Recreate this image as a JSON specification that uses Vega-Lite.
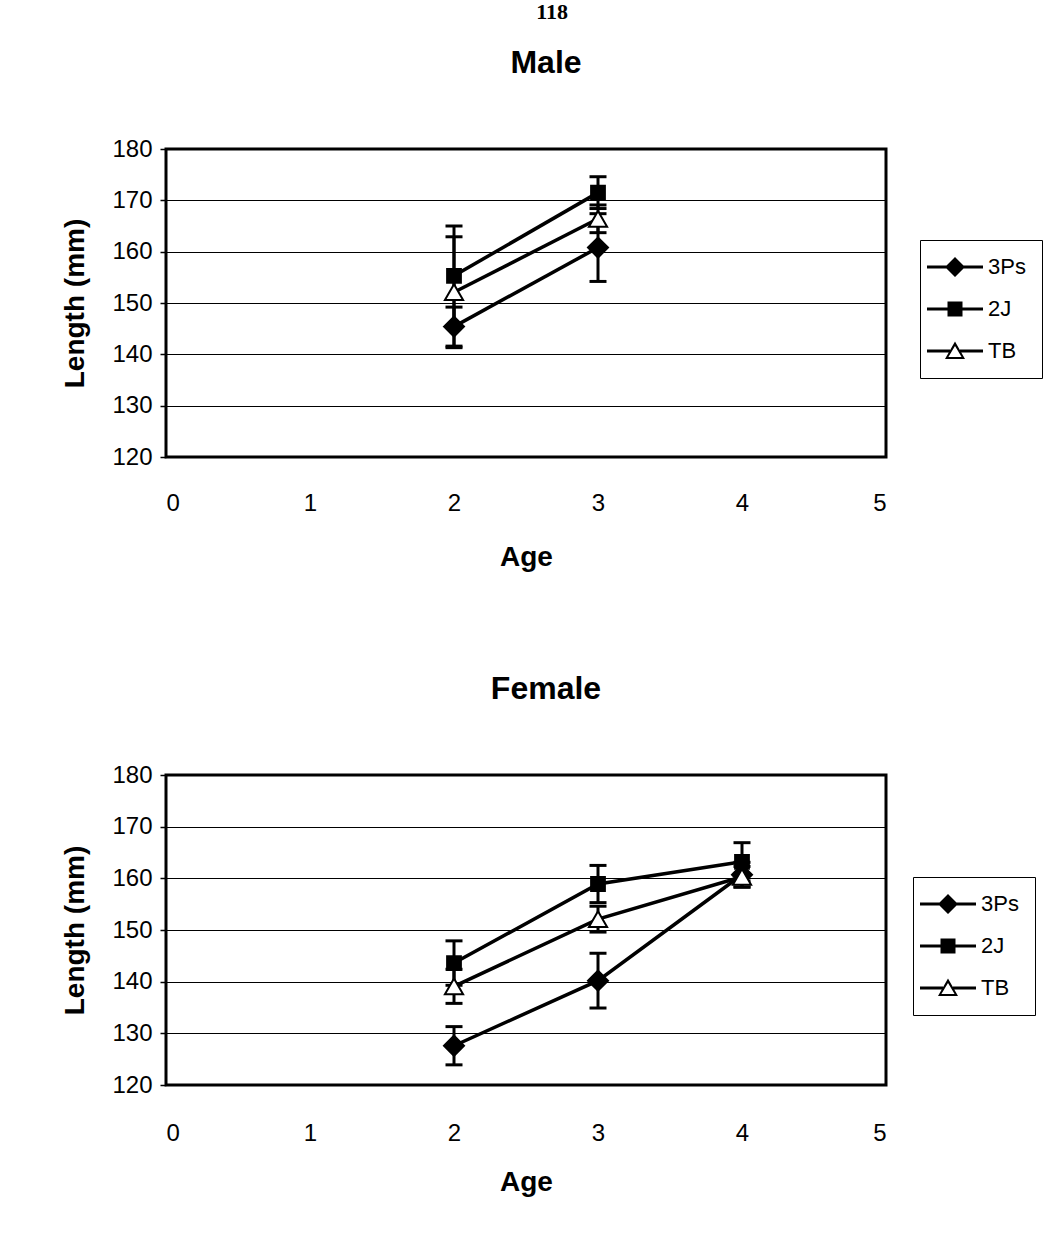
{
  "$schema": "https://vega.github.io/schema/vega-lite/v6.json",
  "background": "white",
  "padding": {"top": 0, "left": 60, "right": 180, "bottom": 0},
  "title": {"text": "118", "font": "Liberation Serif", "fontSize": 22, "color": "black", "anchor": "middle", "offset": 2, "dy": -20, "dx": 0},
  "spacing": 98,
  "config": {
    "view": {"stroke": "black", "strokeWidth": 3},
    "axis": {"labelFont": "Liberation Sans", "labelFontSize": 24, "labelColor": "black", "titleFont": "Liberation Sans", "titleFontSize": 28, "titleFontWeight": "bold", "titleColor": "black", "domain": false},
    "title": {"font": "Liberation Sans", "fontSize": 32, "fontWeight": "bold", "color": "black", "offset": 57, "dx": 20},
    "legend": {"labelFont": "Liberation Sans", "labelFontSize": 22, "labelColor": "black"}
  },
  "resolve": {"scale": {"shape": "independent"}, "legend": {"shape": "independent"}},
  "vconcat": [
    {
      "title": "Male",
      "width": 720,
      "height": 308,
      "data": {"values": [
        {"series": "3Ps", "age": 2, "length": 145.4, "err": 3.8},
        {"series": "3Ps", "age": 3, "length": 160.8, "err": 6.6},
        {"series": "2J", "age": 2, "length": 155.3, "err": 9.7},
        {"series": "2J", "age": 3, "length": 171.5, "err": 3.1},
        {"series": "TB", "age": 2, "length": 152.1, "err": 10.8},
        {"series": "TB", "age": 3, "length": 166.4, "err": 2.7}
      ]},
      "encoding": {
        "x": {"field": "age", "type": "quantitative", "scale": {"domain": [0, 5], "nice": false}, "axis": {"title": "Age", "values": [0, 1, 2, 3, 4, 5], "grid": false, "ticks": false, "labelPadding": 34, "titlePadding": 28}},
        "y": {"field": "length", "type": "quantitative", "scale": {"domain": [120, 180], "nice": false, "zero": false}, "axis": {"title": "Length (mm)", "values": [120, 130, 140, 150, 160, 170, 180], "grid": true, "gridColor": "black", "gridWidth": 1, "gridOpacity": 1, "tickColor": "black", "tickSize": 6, "tickWidth": 1.5, "labelPadding": 8, "titlePadding": 22}}
      },
      "layer": [
        {"mark": {"type": "errorbar", "color": "black", "opacity": 1, "rule": {"strokeWidth": 3, "color": "black", "opacity": 1}, "ticks": {"size": 17, "thickness": 3, "color": "black", "opacity": 1}}, "encoding": {"yError": {"field": "err"}}},
        {"mark": {"type": "line", "color": "black", "strokeWidth": 3.5}, "encoding": {"detail": {"field": "series"}}},
        {"mark": {"type": "point", "filled": true, "stroke": "black", "strokeWidth": 2, "opacity": 1},
         "encoding": {
           "shape": {"condition": [{"test": "datum.series === '3Ps'", "value": "diamond"}, {"test": "datum.series === '2J'", "value": "square"}], "value": "triangle-up"},
           "fill": {"condition": {"test": "datum.series === 'TB'", "value": "white"}, "value": "black"},
           "size": {"condition": [{"test": "datum.series === '3Ps'", "value": 400}, {"test": "datum.series === 'TB'", "value": 330}], "value": 190}
         }},
        {"transform": [{"filter": "false"}],
         "mark": {"type": "point", "filled": true, "color": "black", "opacity": 1},
         "encoding": {
           "shape": {"field": "series", "type": "nominal", "scale": {"domain": ["3Ps", "2J", "TB"], "range": ["M-2.8,-0.15H2.8V0.15H-2.8ZM0,-1L1,0L0,1L-1,0Z", "M-2.8,-0.15H2.8V0.15H-2.8ZM-0.75,-0.75H0.75V0.75H-0.75Z", "M-2.8,-0.15H-0.5V0.15H-2.8ZM0.5,-0.15H2.8V0.15H0.5ZM0,-0.95L1,0.8H-1ZM0,-0.5L-0.66,0.6H0.66Z"]},
             "legend": {"title": null, "orient": "none", "legendX": 754, "legendY": 91, "strokeColor": "black", "padding": 16, "symbolSize": 400, "symbolOffset": 8, "labelOffset": 22, "rowPadding": 18, "symbolFillColor": "black", "symbolOpacity": 1}}
         }}
      ]
    },
    {
      "title": "Female",
      "width": 720,
      "height": 310,
      "data": {"values": [
        {"series": "3Ps", "age": 2, "length": 127.6, "err": 3.7},
        {"series": "3Ps", "age": 3, "length": 140.2, "err": 5.3},
        {"series": "3Ps", "age": 4, "length": 160.7, "err": 2.4},
        {"series": "2J", "age": 2, "length": 143.6, "err": 4.3},
        {"series": "2J", "age": 3, "length": 158.9, "err": 3.6},
        {"series": "2J", "age": 4, "length": 163.2, "err": 3.7},
        {"series": "TB", "age": 2, "length": 139.1, "err": 3.3},
        {"series": "TB", "age": 3, "length": 152.1, "err": 2.5},
        {"series": "TB", "age": 4, "length": 160.3, "err": 2.0}
      ]},
      "encoding": {
        "x": {"field": "age", "type": "quantitative", "scale": {"domain": [0, 5], "nice": false}, "axis": {"title": "Age", "values": [0, 1, 2, 3, 4, 5], "grid": false, "ticks": false, "labelPadding": 36, "titlePadding": 23}},
        "y": {"field": "length", "type": "quantitative", "scale": {"domain": [120, 180], "nice": false, "zero": false}, "axis": {"title": "Length (mm)", "values": [120, 130, 140, 150, 160, 170, 180], "grid": true, "gridColor": "black", "gridWidth": 1, "gridOpacity": 1, "tickColor": "black", "tickSize": 6, "tickWidth": 1.5, "labelPadding": 8, "titlePadding": 22}}
      },
      "layer": [
        {"mark": {"type": "errorbar", "color": "black", "opacity": 1, "rule": {"strokeWidth": 3, "color": "black", "opacity": 1}, "ticks": {"size": 17, "thickness": 3, "color": "black", "opacity": 1}}, "encoding": {"yError": {"field": "err"}}},
        {"mark": {"type": "line", "color": "black", "strokeWidth": 3.5}, "encoding": {"detail": {"field": "series"}}},
        {"mark": {"type": "point", "filled": true, "stroke": "black", "strokeWidth": 2, "opacity": 1},
         "encoding": {
           "shape": {"condition": [{"test": "datum.series === '3Ps'", "value": "diamond"}, {"test": "datum.series === '2J'", "value": "square"}], "value": "triangle-up"},
           "fill": {"condition": {"test": "datum.series === 'TB'", "value": "white"}, "value": "black"},
           "size": {"condition": [{"test": "datum.series === '3Ps'", "value": 400}, {"test": "datum.series === 'TB'", "value": 330}], "value": 190}
         }},
        {"transform": [{"filter": "false"}],
         "mark": {"type": "point", "filled": true, "color": "black", "opacity": 1},
         "encoding": {
           "shape": {"field": "series", "type": "nominal", "scale": {"domain": ["3Ps", "2J", "TB"], "range": ["M-2.8,-0.15H2.8V0.15H-2.8ZM0,-1L1,0L0,1L-1,0Z", "M-2.8,-0.15H2.8V0.15H-2.8ZM-0.75,-0.75H0.75V0.75H-0.75Z", "M-2.8,-0.15H-0.5V0.15H-2.8ZM0.5,-0.15H2.8V0.15H0.5ZM0,-0.95L1,0.8H-1ZM0,-0.5L-0.66,0.6H0.66Z"]},
             "legend": {"title": null, "orient": "none", "legendX": 747, "legendY": 102, "strokeColor": "black", "padding": 16, "symbolSize": 400, "symbolOffset": 8, "labelOffset": 22, "rowPadding": 18, "symbolFillColor": "black", "symbolOpacity": 1}}
         }}
      ]
    }
  ]
}
